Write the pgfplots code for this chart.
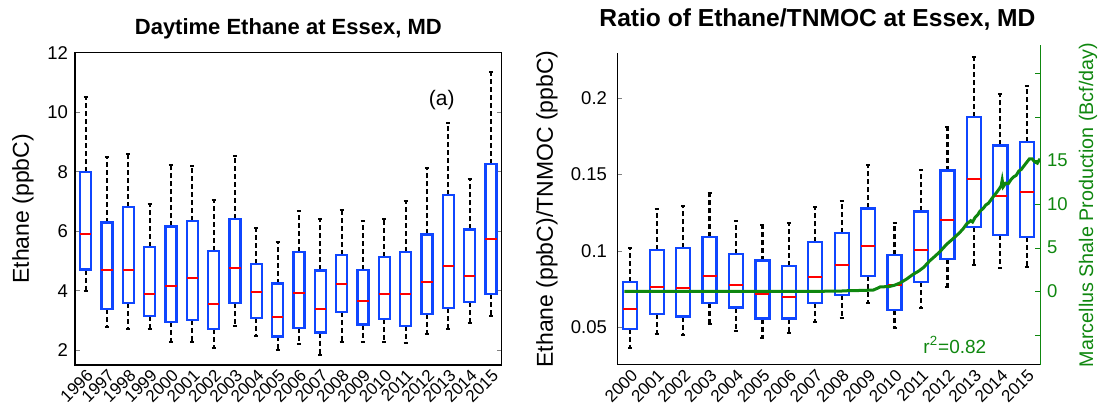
\documentclass[border=0pt]{standalone}
\usepackage{fontspec}
\setmainfont{Liberation Sans}
\usepackage{pgfplots}
\pgfplotsset{compat=1.18}
\usepgfplotslibrary{statistics}

\definecolor{boxblue}{RGB}{15,70,255}
\definecolor{medred}{RGB}{255,0,0}
\definecolor{shalegreen}{RGB}{15,135,15}

% one prepared box: position, lower whisker, Q1, median, Q3, upper whisker
\newcommand{\bx}[6]{\addplot[boxblue, line width=1.15pt, boxplot prepared={draw position=#1, lower whisker=#2, lower quartile=#3, median=#4, upper quartile=#5, upper whisker=#6}] coordinates {};}

\pgfplotsset{
  boxplot/draw/lower whisker/.code={%
    \draw[black, line width=1.1pt, dash pattern=on 2.5pt off 1.5pt]
      (boxplot box cs:\pgfplotsboxplotvalue{lower quartile},0.5) -- (boxplot box cs:\pgfplotsboxplotvalue{lower whisker},0.5);
    \draw[black, solid, line width=1pt]
      (boxplot whisker cs:\pgfplotsboxplotvalue{lower whisker},0) -- (boxplot whisker cs:\pgfplotsboxplotvalue{lower whisker},1);
  },
  boxplot/draw/upper whisker/.code={%
    \draw[black, line width=1.1pt, dash pattern=on 2.5pt off 1.5pt]
      (boxplot box cs:\pgfplotsboxplotvalue{upper quartile},0.5) -- (boxplot box cs:\pgfplotsboxplotvalue{upper whisker},0.5);
    \draw[black, solid, line width=1pt]
      (boxplot whisker cs:\pgfplotsboxplotvalue{upper whisker},0) -- (boxplot whisker cs:\pgfplotsboxplotvalue{upper whisker},1);
  },
  boxplot/every median/.style={medred, line width=1pt},
  essex/.style={
    scale only axis, anchor=south west,
    boxplot/draw direction=y,
    tick align=inside, major tick length=2.5pt,
    /pgf/number format/assume math mode=true,
    yticklabel style={font=\fontsize{9.25}{10}\selectfont},
    xticklabel style={font=\fontsize{8.5}{9}\selectfont, rotate=45, anchor=north east, inner sep=1pt},
    xtick style={draw=none},
    title style={font=\fontsize{11}{13}\selectfont\bfseries, anchor=base, at={(0.5,1)}},
    ylabel style={font=\fontsize{11.5}{13}\selectfont, anchor=center},
  },
}

\begin{document}
\begin{tikzpicture}
% (a) daytime ethane
\begin{axis}[essex, at={(0,0)}, width=213.35pt, height=156.15pt,
  xmin=-0.5, xmax=19.5, ymin=1.5, ymax=12,
  axis line style={line width=0.65pt},
  boxplot/box extend=0.52, boxplot/whisker extend=0.19,
  xtick={0,...,19},
  xticklabels={1996,1997,1998,1999,2000,2001,2002,2003,2004,2005,2006,2007,2008,2009,2010,2011,2012,2013,2014,2015},
  ytick={2,4,6,8,10,12},
  title={Daytime Ethane at Essex, MD}, title style={yshift=3pt},
  ylabel={Ethane (ppbC)}, ylabel style={at={(axis description cs:-0.122,0.5)}},
]
\bx{0}{3.98}{4.71}{5.89}{8.00}{10.50}
\bx{1}{2.78}{3.38}{4.71}{6.29}{8.50}
\bx{2}{2.70}{3.58}{4.71}{6.81}{8.59}
\bx{3}{2.70}{3.15}{3.88}{5.46}{6.92}
\bx{4}{2.27}{2.95}{4.15}{6.16}{8.21}
\bx{5}{2.29}{3.02}{4.44}{6.35}{8.18}
\bx{6}{2.07}{2.70}{3.55}{5.34}{7.04}
\bx{7}{2.82}{3.58}{4.75}{6.42}{8.54}
\bx{8}{2.49}{3.09}{3.95}{4.90}{6.09}
\bx{9}{2.00}{2.46}{3.12}{4.24}{5.63}
\bx{10}{2.20}{2.75}{3.92}{5.30}{6.69}
\bx{11}{1.83}{2.59}{3.39}{4.68}{6.42}
\bx{12}{2.29}{3.29}{4.22}{5.21}{6.72}
\bx{13}{2.27}{2.86}{3.65}{4.70}{6.33}
\bx{14}{2.29}{3.05}{3.88}{5.14}{6.42}
\bx{15}{2.24}{2.82}{3.88}{5.30}{7.01}
\bx{16}{2.53}{3.22}{4.28}{5.89}{8.13}
\bx{17}{2.70}{3.41}{4.84}{7.21}{9.62}
\bx{18}{2.92}{3.61}{4.48}{6.06}{7.74}
\bx{19}{3.14}{3.88}{5.73}{8.26}{11.35}
\node[font=\fontsize{10.5}{12}\selectfont] at (axis cs:16.69,10.4) {(a)};
\end{axis}

% ratio ethane/TNMOC
\begin{axis}[essex, at={(271pt,0)}, width=211.5pt, height=156pt,
  xmin=-0.5, xmax=15.5, ymin=0.0251, ymax=0.2296,
  axis x line*=bottom, axis y line*=left,
  axis line style={line width=0.5pt},
  boxplot/box extend=0.53, boxplot/whisker extend=0.15,
  xtick={0,...,15},
  xticklabels={2000,2001,2002,2003,2004,2005,2006,2007,2008,2009,2010,2011,2012,2013,2014,2015},
  ytick={0.05,0.1,0.15,0.2}, yticklabels={0.05,0.1,0.15,0.2},
  yticklabel style={xshift=-1.5pt},
  title={Ratio of Ethane/TNMOC at Essex, MD},
  title style={yshift=7pt, xshift=-5.5pt, font=\fontsize{12.3}{14}\selectfont\bfseries},
  ylabel={Ethane (ppbC)/TNMOC (ppbC)}, ylabel style={at={(axis description cs:-0.1655,0.5)}},
]
\bx{0}{0.0364}{0.0489}{0.0621}{0.0796}{0.1016}
\bx{1}{0.0452}{0.0583}{0.0763}{0.1007}{0.1275}
\bx{2}{0.0445}{0.0568}{0.0757}{0.1016}{0.1290}
\bx{3}{0.0518}{0.0658}{0.0834}{0.1088}{0.1378}
\bx{4}{0.0474}{0.0627}{0.0777}{0.0977}{0.1196}
\bx{5}{0.0430}{0.0555}{0.0717}{0.0935}{0.1170}
\bx{6}{0.0460}{0.0555}{0.0698}{0.0902}{0.1183}
\bx{7}{0.0533}{0.0658}{0.0829}{0.1056}{0.1284}
\bx{8}{0.0559}{0.0711}{0.0906}{0.1115}{0.1323}
\bx{9}{0.0658}{0.0834}{0.1029}{0.1277}{0.1561}
\bx{10}{0.0496}{0.0612}{0.0774}{0.0970}{0.1181}
\bx{11}{0.0627}{0.0794}{0.1005}{0.1258}{0.1532}
\bx{12}{0.0763}{0.0946}{0.1200}{0.1525}{0.1811}
\bx{13}{0.0906}{0.1154}{0.1473}{0.1875}{0.2268}
\bx{14}{0.0884}{0.1102}{0.1356}{0.1690}{0.2026}
\bx{15}{0.0891}{0.1088}{0.1383}{0.1712}{0.2081}
\node[shalegreen, font=\fontsize{9.5}{11}\selectfont] at (axis cs:12.28,0.0382) {r\textsuperscript{2}=0.82};
\end{axis}

% Marcellus shale production (right axis)
\begin{axis}[essex, at={(271pt,0)}, width=211.5pt, height=160pt,
  xmin=-0.5, xmax=15.5, ymin=-8.45, ymax=28.25,
  axis x line=none, axis y line*=right,
  axis line style={shalegreen, line width=0.5pt},
  ytick style={shalegreen},
  ytick={-5,0,5,10,15,20,25}, yticklabels={{},0,5,10,15,{},{}},
  yticklabel style={shalegreen, font=\fontsize{9.25}{10}\selectfont},
  ylabel={Marcellus Shale Production (Bcf/day)},
  ylabel style={shalegreen, font=\fontsize{9.85}{11}\selectfont, at={(axis description cs:1.1135,0.5)}},
]
\addplot[shalegreen, line width=1.5pt] coordinates {
(-0.22,0.0) (1,0.0) (2,0.0) (3,0.0) (4,0.0) (5,0.0) (6,0.0) (7,0.0) (7.9,0.02)
(8.3,0.08) (8.8,0.1) (9.2,0.15) (9.35,0.35) (9.45,0.5) (9.8,0.55) (10.0,0.7)
(10.2,0.95) (10.45,1.4) (10.7,1.95) (10.9,2.3) (11.1,2.75) (11.33,3.5) (11.5,3.95)
(11.7,4.5) (11.97,5.4) (12.2,6.0) (12.45,6.7) (12.6,7.2) (12.73,7.75) (12.8,7.9)
(12.88,8.1) (12.95,7.95) (13.05,8.5) (13.15,8.8) (13.23,9.2) (13.35,9.5) (13.45,9.9)
(13.55,10.1) (13.73,10.85) (13.85,11.3) (13.97,11.8) (14.03,12.1) (14.07,12.75)
(14.11,12.0) (14.2,12.4) (14.3,12.35) (14.4,12.8) (14.49,13.1) (14.6,13.3) (14.7,13.8)
(14.8,14.0) (14.87,14.3) (15.0,14.8) (15.1,15.2) (15.2,15.2) (15.3,14.85) (15.4,14.7)
(15.5,15.2)};
\end{axis}
\pgfresetboundingbox
\useasboundingbox (-37.5pt,-23.5pt) rectangle (512pt,182.5pt);
\end{tikzpicture}
\end{document}
